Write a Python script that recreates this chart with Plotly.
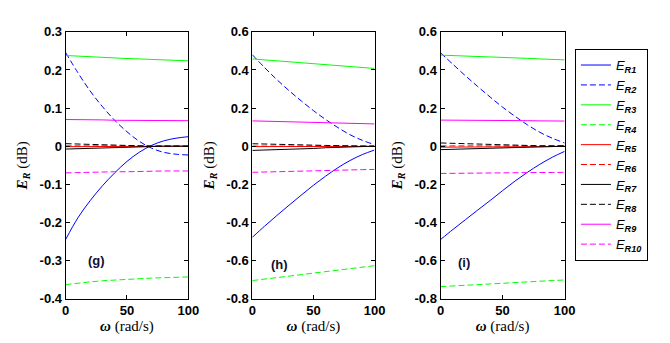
import plotly.graph_objects as go
from plotly.subplots import make_subplots

omega = [0, 10, 20, 30, 40, 50, 60, 70, 80, 90, 100]

# panel (g)
g_ER1 = [-0.245, -0.188, -0.143, -0.104, -0.070, -0.040, -0.016, 0.002, 0.014, 0.021, 0.025]
g_ER2 = [0.246, 0.193, 0.145, 0.104, 0.068, 0.038, 0.013, -0.005, -0.016, -0.021, -0.023]
g_ER3 = [0.238, 0.236, 0.235, 0.233, 0.232, 0.230, 0.229, 0.228, 0.226, 0.225, 0.224]
g_ER4 = [-0.363, -0.359, -0.356, -0.353, -0.351, -0.349, -0.347, -0.346, -0.345, -0.344, -0.343]
g_ER5 = [-0.0012, -0.0012, -0.0011, -0.0011, -0.0010, -0.0009, -0.0006, -0.0004, -0.0002, 0.0, 0.0]
g_ER6 = [0.0008, 0.0008, 0.0007, 0.0007, 0.0006, 0.0006, 0.0005, 0.0005, 0.0005, 0.0005, 0.0005]
g_ER7 = [-0.0075, -0.0065, -0.0055, -0.0045, -0.0030, -0.0015, -0.0005, 0.0, 0.0, 0.0, 0.0]
g_ER8 = [0.0067, 0.0055, 0.0045, 0.0035, 0.0025, 0.0017, 0.0010, 0.0005, 0.0002, 0.0, 0.0]
g_ER9 = [0.070, 0.070, 0.069, 0.069, 0.068, 0.068, 0.068, 0.067, 0.067, 0.067, 0.067]
g_ER10 = [-0.070, -0.069, -0.069, -0.068, -0.067, -0.067, -0.066, -0.066, -0.065, -0.065, -0.065]

# panel (h)
h_ER1 = [-0.478, -0.420, -0.364, -0.310, -0.257, -0.205, -0.157, -0.113, -0.075, -0.044, -0.020]
h_ER2 = [0.480, 0.413, 0.350, 0.292, 0.238, 0.187, 0.140, 0.098, 0.060, 0.031, 0.008]
h_ER3 = [0.458, 0.453, 0.448, 0.443, 0.438, 0.433, 0.428, 0.423, 0.418, 0.413, 0.408]
h_ER4 = [-0.705, -0.698, -0.690, -0.682, -0.674, -0.666, -0.658, -0.650, -0.642, -0.634, -0.627]
h_ER5 = [-0.002, -0.002, -0.002, -0.002, -0.002, -0.002, -0.002, -0.002, -0.002, -0.0015, -0.001]
h_ER6 = [0.0005, 0.0005, 0.0005, 0.0005, 0.0005, 0.0005, 0.0005, 0.0005, 0.0005, 0.0005, 0.0005]
h_ER7 = [-0.022, -0.020, -0.019, -0.018, -0.015, -0.012, -0.008, -0.005, -0.003, -0.001, 0.0]
h_ER8 = [0.013, 0.011, 0.010, 0.008, 0.006, 0.005, 0.004, 0.003, 0.002, 0.001, 0.0]
h_ER9 = [0.133, 0.131, 0.130, 0.128, 0.126, 0.125, 0.123, 0.122, 0.120, 0.118, 0.117]
h_ER10 = [-0.137, -0.135, -0.134, -0.132, -0.131, -0.129, -0.128, -0.126, -0.125, -0.123, -0.122]

# panel (i)
i_ER1 = [-0.490, -0.437, -0.386, -0.335, -0.285, -0.233, -0.183, -0.137, -0.095, -0.058, -0.027]
i_ER2 = [0.490, 0.430, 0.370, 0.313, 0.258, 0.205, 0.157, 0.112, 0.073, 0.042, 0.017]
i_ER3 = [0.478, 0.476, 0.473, 0.471, 0.468, 0.466, 0.463, 0.461, 0.458, 0.456, 0.453]
i_ER4 = [-0.737, -0.733, -0.730, -0.726, -0.723, -0.719, -0.716, -0.712, -0.709, -0.705, -0.702]
i_ER5 = [-0.005, -0.005, -0.005, -0.005, -0.0045, -0.0045, -0.004, -0.004, -0.004, -0.002, 0.0]
i_ER6 = [0.0015, 0.0015, 0.0015, 0.0015, 0.0015, 0.0015, 0.0015, 0.0015, 0.0015, 0.0015, 0.0015]
i_ER7 = [-0.018, -0.016, -0.014, -0.012, -0.010, -0.008, -0.006, -0.004, -0.003, -0.001, 0.0]
i_ER8 = [0.017, 0.015, 0.013, 0.011, 0.008, 0.006, 0.003, 0.003, 0.002, 0.002, 0.002]
i_ER9 = [0.137, 0.137, 0.136, 0.136, 0.135, 0.135, 0.134, 0.134, 0.133, 0.133, 0.132]
i_ER10 = [-0.143, -0.142, -0.142, -0.141, -0.141, -0.140, -0.139, -0.139, -0.138, -0.138, -0.137]

series_names = ["R1", "R2", "R3", "R4", "R5", "R6", "R7", "R8", "R9", "R10"]
colors = ["#0000FF", "#0000FF", "#00FF00", "#00FF00", "#FF0000", "#FF0000",
          "#000000", "#000000", "#FF00FF", "#FF00FF"]
dashes = ["solid", "6px,3px"] * 5

panels = [
    [g_ER1, g_ER2, g_ER3, g_ER4, g_ER5, g_ER6, g_ER7, g_ER8, g_ER9, g_ER10],
    [h_ER1, h_ER2, h_ER3, h_ER4, h_ER5, h_ER6, h_ER7, h_ER8, h_ER9, h_ER10],
    [i_ER1, i_ER2, i_ER3, i_ER4, i_ER5, i_ER6, i_ER7, i_ER8, i_ER9, i_ER10],
]
panel_labels = ["(g)", "(h)", "(i)"]
label_pos = [(25, -0.30), (22, -0.62), (19, -0.61)]

x_ticks = [0, 50, 100]
g_yticks = [0.3, 0.2, 0.1, 0.0, -0.1, -0.2, -0.3, -0.4]
g_yticktext = ["0.3", "0.2", "0.1", "0", "-0.1", "-0.2", "-0.3", "-0.4"]
hi_yticks = [0.6, 0.4, 0.2, 0.0, -0.2, -0.4, -0.6, -0.8]
hi_yticktext = ["0.6", "0.4", "0.2", "0", "-0.2", "-0.4", "-0.6", "-0.8"]
yranges = [[-0.4, 0.3], [-0.8, 0.6], [-0.8, 0.6]]

W, H = 670, 343
fig = make_subplots(rows=1, cols=3)

for p, data in enumerate(panels):
    for k, ys in enumerate(data):
        shape = "spline" if k < 2 else "linear"
        fig.add_trace(go.Scatter(
            x=omega, y=ys, mode="lines",
            line=dict(color=colors[k], width=1, dash=dashes[k], shape=shape),
            name="<i>E</i><sub><b><i>%s</i></b></sub>" % series_names[k],
            showlegend=(p == 0),
        ), row=1, col=p + 1)

x_doms = [(63, 188.5), (254, 379), (446.5, 573.5)]
y_dom = [1 - 305 / H, 1 - 26 / H]
tickfont = dict(family="Liberation Sans, Arial", size=13, color="black", weight="bold")
titlefont = dict(family="Liberation Serif, Times New Roman", size=15, color="black")
for p in range(3):
    xa = "xaxis" if p == 0 else "xaxis%d" % (p + 1)
    ya = "yaxis" if p == 0 else "yaxis%d" % (p + 1)
    fig.layout[xa].update(
        domain=[x_doms[p][0] / W, x_doms[p][1] / W], range=[0, 100],
        tickvals=x_ticks, ticktext=[str(v) for v in x_ticks],
        ticks="inside", ticklen=4, tickcolor="black", showline=True,
        linecolor="black", linewidth=1, mirror="ticks", showgrid=False,
        zeroline=False, tickfont=tickfont,
        title=dict(text="<b><i>ω</i></b> (rad/s)", standoff=3, font=titlefont),
    )
    ytv = g_yticks if p == 0 else hi_yticks
    ytt = g_yticktext if p == 0 else hi_yticktext
    fig.layout[ya].update(
        domain=y_dom, range=yranges[p], tickvals=ytv, ticktext=ytt,
        ticks="inside", ticklen=4, tickcolor="black", showline=True,
        linecolor="black", linewidth=1, mirror="ticks", showgrid=False,
        zeroline=False, tickfont=tickfont,
        title=dict(text="<b><i>E</i></b><sub><b><i>R</i></b></sub> (dB)", standoff=8, font=titlefont),
    )
    fig.add_annotation(
        x=label_pos[p][0], y=label_pos[p][1], xref="x" if p == 0 else "x%d" % (p + 1),
        yref="y" if p == 0 else "y%d" % (p + 1), text="<b>%s</b>" % panel_labels[p],
        showarrow=False, font=dict(family="Liberation Sans, Arial", size=13, color="#101030"),
    )

fig.update_layout(
    width=W, height=H, margin=dict(l=0, r=0, t=0, b=0),
    plot_bgcolor="white", paper_bgcolor="white",
    legend=dict(x=584 / W, y=1 - 44 / H, xanchor="left", yanchor="top",
                bordercolor="black", borderwidth=1, bgcolor="white",
                font=dict(family="Liberation Sans, Arial", size=13, color="black"),
                itemwidth=30, tracegroupgap=4),
)

fig.write_html("out.html")
